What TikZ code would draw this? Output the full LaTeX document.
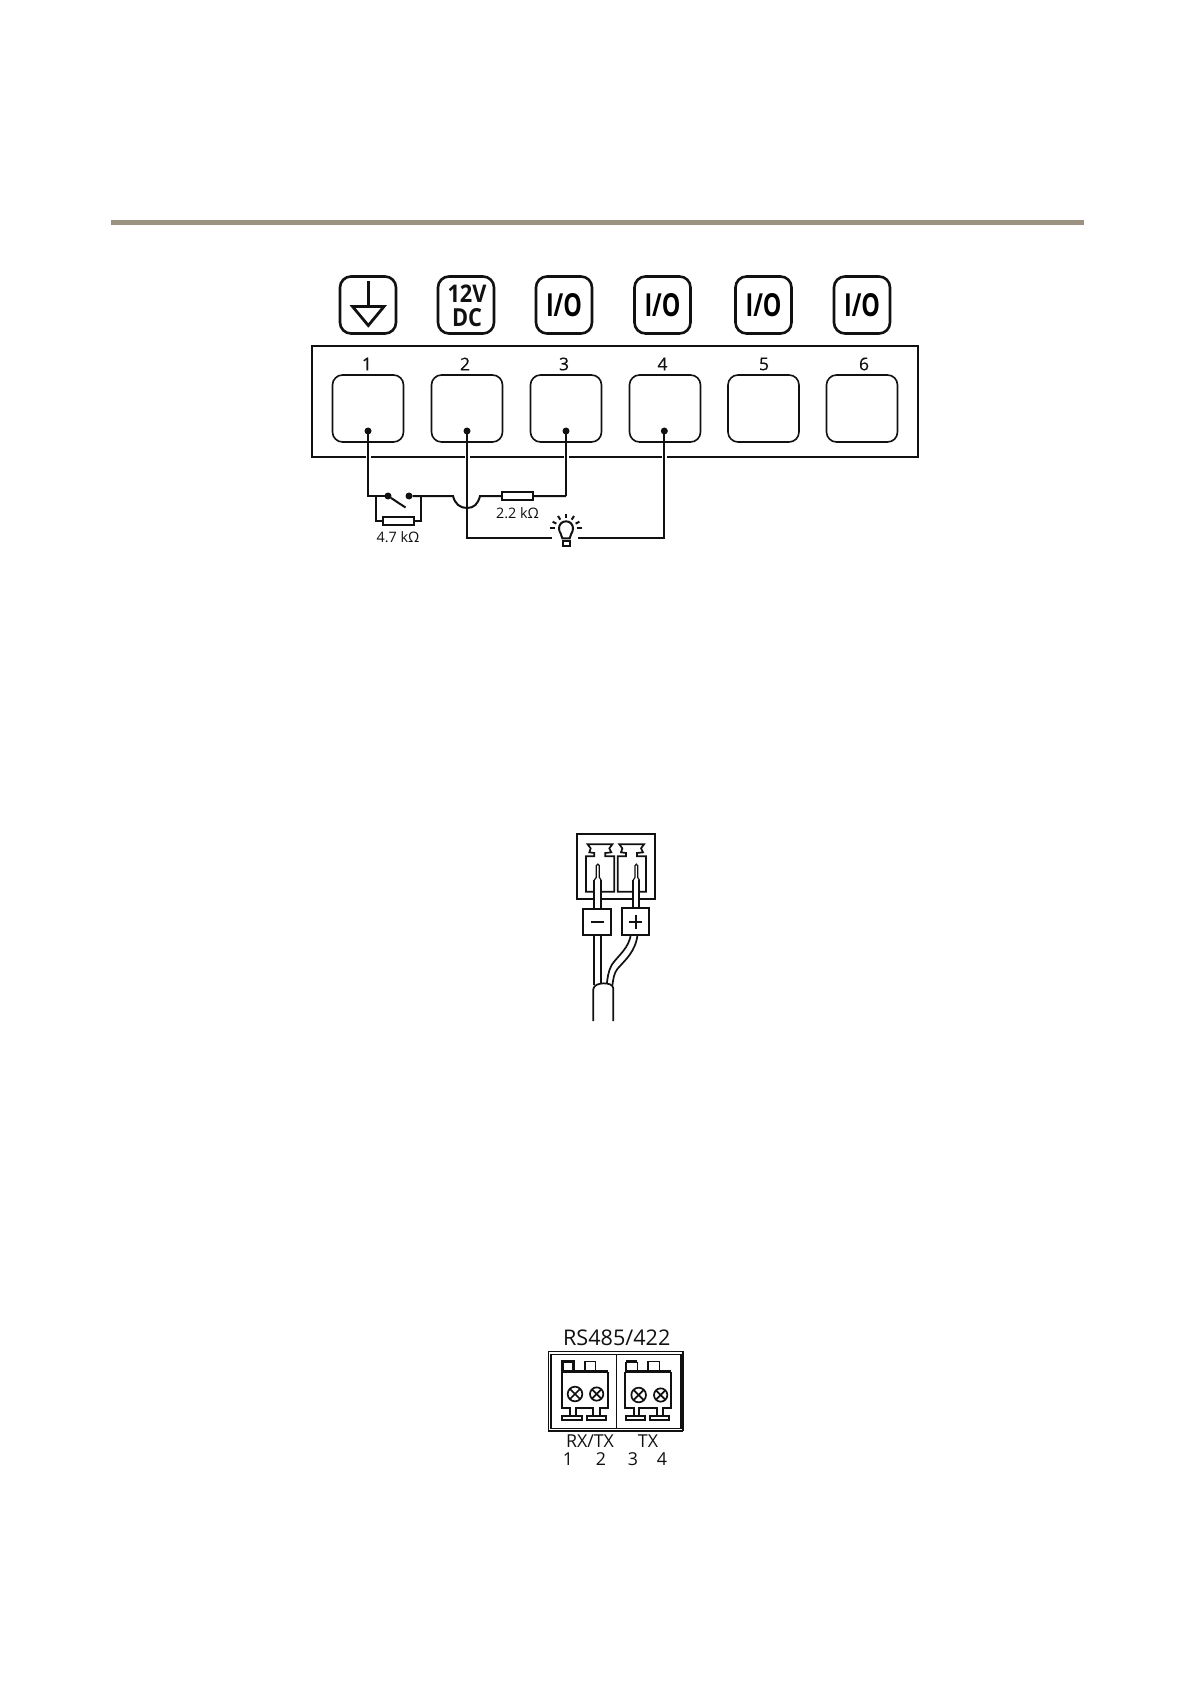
\documentclass[tikz,border=0pt]{standalone}
\usepackage{fontspec}
\setmainfont{Open Sans}
\newfontfamily\semif[FakeBold=0.35]{Open Sans}
\definecolor{rulecol}{HTML}{9C9282}
\definecolor{ink}{HTML}{111111}
\newcommand{\iotext}{\resizebox{18pt}{11.5pt}{\bfseries I/O}}
\tikzset{
  px/.style={line width=#1*0.5pt},
  wire/.style={draw=ink,px=2,line join=miter},
  halo/.style={draw=white,px=5},
  icon/.style={draw=ink,px=2.6,rectangle,rounded corners=5.5pt,minimum width=28pt,minimum height=28.5pt,inner sep=0pt,outer sep=0pt},
  term/.style={draw=ink,px=1.6,rectangle,rounded corners=5pt,minimum width=35.5pt,minimum height=33.5pt,inner sep=0pt,outer sep=0pt},
  res/.style={draw=ink,fill=white,px=1.8,rectangle,minimum width=15.5pt,minimum height=4pt,inner sep=0pt,outer sep=0pt},
  dot/.style={circle,fill=ink,minimum size=3.5pt,inner sep=0pt,outer sep=0pt},
  lab/.style={inner sep=0pt,text=ink,font=\fontsize{7.2pt}{8pt}\selectfont},
  numl/.style={inner sep=0pt,text=ink,font=\semif\fontsize{8.8pt}{9pt}\selectfont},
  dctxt/.style={inner sep=0pt,text=ink},
  rslab/.style={inner sep=0pt,text=ink,font=\fontsize{10.8pt}{11pt}\selectfont},
  rssm/.style={inner sep=0pt,text=ink,font=\fontsize{8.9pt}{9pt}\selectfont},
  pbox/.style={draw=ink,fill=white,px=2,rectangle,inner sep=0pt,outer sep=0pt},
  thin/.style={draw=ink,px=1.3},
  med/.style={draw=ink,px=1.7},
  tipl/.style={draw=ink,px=1.2},
  thick1/.style={draw=ink,px=2.4},
}
\begin{document}
\begin{tikzpicture}[x=0.5pt,y=-0.5pt]
\useasboundingbox (0,0) rectangle (1191,1684);
\fill[white] (0,0) rectangle (1191,1684);
% top rule
\fill[rulecol] (110.5,220) rectangle (1084,225.5);
% main box
\node[draw=ink,px=1.3,rectangle,minimum width=303pt,minimum height=55.5pt,inner sep=0pt,outer sep=0pt] (main) at (615,401.5) {};
\draw[thick1,line cap=rect] (main.north east) -- (main.south east) -- (main.south west);
% icons
\node[icon] (i1) at (368,305) {};
\node[icon] (i2) at (466,305) {};
\node[icon] (i3) at (564,305) {\iotext};
\node[icon] (i4) at (662.5,305) {\iotext};
\node[icon] (i5) at (763.5,305) {\iotext};
\node[icon] (i6) at (862,305) {\iotext};
\node[dctxt] (v12) at (467,294) {\resizebox{19.5pt}{8.8pt}{\bfseries 12V}};
\node[dctxt] (vdc) at (467,317.5) {\resizebox{15pt}{9pt}{\bfseries DC}};
% ground symbol
\coordinate (g0) at (368.3,281.5);
\coordinate (g1) at (368.3,306);
\draw[draw=ink,px=3] (g0) -- (g1);
\draw[draw=ink,px=2.8,line join=miter] (352.5,306.5) -- (384,306.5) -- (368.3,325.5) -- cycle;
% terminals
\node[term] (t1) at (368,408.5) {};
\node[term] (t2) at (467,408.5) {};
\node[term] (t3) at (566,408.5) {};
\node[term] (t4) at (665,408.5) {};
\node[term] (t5) at (763.5,408.5) {};
\node[term] (t6) at (862,408.5) {};
\node[numl] (n1) at (367,364) {1};
\node[numl] (n2) at (465,364) {2};
\node[numl] (n3) at (564,364) {3};
\node[numl] (n4) at (662.5,364) {4};
\node[numl] (n5) at (764,364) {5};
\node[numl] (n6) at (864,364) {6};
% wire points
\coordinate (d1c) at (368,431);
\coordinate (d2c) at (467,431);
\coordinate (d3c) at (566,431);
\coordinate (d4c) at (664.3,431);
\coordinate (a1) at (368,496);
\coordinate (p1) at (376,496);
\coordinate (p2) at (421,496);
\coordinate (p1b) at (376,521);
\coordinate (p2b) at (421,521);
\coordinate (hl) at (453,496);
\coordinate (hr) at (480,496);
\coordinate (hb) at (467,508);
\coordinate (a3) at (566,496);
\coordinate (b2) at (467,538);
\coordinate (b4) at (664.3,538);
\coordinate (bl) at (551.5,538);
\coordinate (br) at (578,538);
% halos through the box border
\draw[halo] (368,444) -- (368,465);
\draw[halo] (467,444) -- (467,465);
\draw[halo] (566,444) -- (566,465);
\draw[halo] (664.3,444) -- (664.3,465);
% wires
\draw[wire] (d1c) -- (a1) -- (388,496);
\node[dot] (s1) at (388,496) {};
\node[dot] (s2) at (409,496) {};
\draw[wire] (s1) -- (405.5,507.5);
\draw[wire] (s2) -- (hl) .. controls (455,504) and (460,508) .. (hb) .. controls (474,508) and (478,504) .. (hr) -- (a3);
\draw[wire] (a3) -- (d3c);
\draw[wire] (p1) -- (p1b) -- (p2b) -- (p2);
\draw[wire] (d2c) -- (hb) -- (b2) -- (bl);
\draw[wire] (br) -- (b4) -- (d4c);
\node[res] (r47) at (398.5,521) {};
\node[res] (r22) at (517.5,496) {};
\node[dot] (d1) at (d1c) {};
\node[dot] (d2) at (d2c) {};
\node[dot] (d3) at (d3c) {};
\node[dot] (d4) at (d4c) {};
\node[lab] (l47) at (398,537) {4.7 kΩ};
\node[lab] (l22) at (517.5,513) {2.2 kΩ};
% bulb
\begin{scope}[shift={(540,505)},scale=1/3]
\draw[wire] (67,100) .. controls (67,88) and (57,84) .. (57,70) .. controls (57,58) and (66,49) .. (78,49) .. controls (90,49) and (99,58) .. (99,70) .. controls (99,84) and (89,88) .. (89,100) -- cycle;
\draw[wire] (68,107) rectangle (90,122);
\draw[wire] (78,27) -- (78,40);
\draw[wire] (54,33) -- (61,44);
\draw[wire] (102,33) -- (95,44);
\draw[wire] (38,50) -- (49,56);
\draw[wire] (118,50) -- (107,56);
\draw[wire] (30,70) -- (46,70);
\draw[wire] (110,70) -- (126,70);
\end{scope}
% power connector
\begin{scope}[shift={(570,825)},scale=1/3]
\draw[med] (20,28) rectangle (255,222);
\draw[thick1] (20,222) -- (255,222);
\draw[med,line join=miter] (53,58) -- (127,58) -- (118,70) -- (124,82) -- (106,84) -- (106,94) -- (133,94) -- (133,200) -- (48,200) -- (48,94) -- (73,94) -- (73,84) -- (58,82) -- (62,70) -- cycle;
\draw[med,line join=miter] (148,58) -- (222,58) -- (213,70) -- (219,82) -- (201,84) -- (201,94) -- (228,94) -- (228,200) -- (143,200) -- (143,94) -- (168,94) -- (168,84) -- (153,82) -- (157,70) -- cycle;
\filldraw[tipl,fill=white] (73,480) -- (73,165) -- (79,157) -- (79,122) .. controls (79,116) and (88,116) .. (88,122) -- (88,157) -- (93,165) -- (93,480);
\draw[med] (73,480) -- (73,165);
\draw[med] (93,480) -- (93,165);
\filldraw[tipl,fill=white] (190,290) -- (190,165) -- (195,157) -- (195,122) .. controls (195,116) and (203,116) .. (203,122) -- (203,157) -- (208,165) -- (208,290);
\draw[med] (190,290) -- (190,165);
\draw[med] (208,290) -- (208,165);
\end{scope}
\begin{scope}[shift={(570,895)},scale=1/3]
\fill[white] (183,115) .. controls (178,160) and (145,180) .. (125,210) .. controls (115,228) and (112,250) .. (110,272) -- (127,272) .. controls (130,250) and (132,235) .. (142,222) .. controls (165,195) and (198,170) .. (203,115) -- cycle;
\draw[med] (183,115) .. controls (178,160) and (145,180) .. (125,210) .. controls (115,228) and (112,250) .. (110,272);
\draw[med] (203,115) .. controls (198,170) and (165,195) .. (142,222) .. controls (132,235) and (130,250) .. (127,272);
\filldraw[med,fill=white] (70,378) -- (70,282) .. controls (72,270) and (85,266) .. (100,265) .. controls (115,265) and (128,268) .. (130,280) -- (130,378);
\node[pbox,minimum width=13.7pt,minimum height=12.8pt] (minus) at (81,81.5) {};
\node[pbox,minimum width=13.5pt,minimum height=13.5pt] (plus) at (196.5,80.5) {};
\draw[draw=ink,px=2.4] (62,80.5) -- (102,80.5);
\draw[med] (177,81) -- (217,81);
\draw[med] (197,61) -- (197,101);
\end{scope}
% RS485 block
\node[rslab] (rs) at (616.7,1337.5) {RS485/422};
\begin{scope}[shift={(535,1315)},scale=1/3]
\draw[thin] (40,110) rectangle (445,347);
\draw[draw=ink,px=2.1] (40,347) -- (445,347);
\draw[draw=ink,px=1.8] (445,110) -- (445,347);
\draw[thin] (48,118) rectangle (438,340);
\draw[thin] (245,118) -- (245,340);
\end{scope}
\begin{scope}[shift={(545,1345)},scale=1/3]
\draw[thick1] (52,80) -- (52,50) -- (85,50) -- (85,80);
\draw[thin] (120,80) -- (120,50) -- (152,50) -- (152,80);
\draw[thick1] (50,80) -- (188,80);
\draw[med] (50,80) -- (50,190) -- (75,190) -- (75,212);
\draw[med] (92,212) -- (92,190) -- (145,190) -- (145,212);
\draw[med] (165,212) -- (165,190) -- (188,190) -- (188,80);
\draw[med] (52,212) rectangle (110,226);
\draw[med] (125,212) rectangle (183,226);
\draw[med] (90,147) circle[radius=22];
\draw[med] (74.4,131.4) -- (105.6,162.6);
\draw[med] (74.4,162.6) -- (105.6,131.4);
\draw[med] (155,147) circle[radius=20];
\draw[med] (141,133) -- (169,161);
\draw[med] (141,161) -- (169,133);
\end{scope}
\begin{scope}[shift={(612,1345)},scale=1/3]
\draw[thin] (42,80) -- (42,50);
\draw[thick1] (42,50) -- (76,50);
\draw[thin] (76,50) -- (76,80);
\draw[thin] (108,80) -- (108,50) -- (142,50) -- (142,80);
\draw[thick1] (40,80) -- (177,80);
\draw[med] (40,80) -- (40,190) -- (65,190) -- (65,212);
\draw[med] (82,212) -- (82,190) -- (135,190) -- (135,212);
\draw[med] (152,212) -- (152,190) -- (177,190) -- (177,80);
\draw[med] (42,212) rectangle (100,226);
\draw[med] (115,212) rectangle (172,226);
\draw[med] (80,150) circle[radius=22];
\draw[med] (64.4,134.4) -- (95.6,165.6);
\draw[med] (64.4,165.6) -- (95.6,134.4);
\draw[med] (146,150) circle[radius=20];
\draw[med] (132,136) -- (160,164);
\draw[med] (132,164) -- (160,136);
\end{scope}
\node[rssm] (rx) at (590,1441) {RX/TX};
\node[rssm] (tx) at (648,1441) {TX};
\node[rssm] (c1) at (568,1459) {1};
\node[rssm] (c2) at (601,1459) {2};
\node[rssm] (c3) at (633,1459) {3};
\node[rssm] (c4) at (662,1459) {4};
\end{tikzpicture}
\end{document}
